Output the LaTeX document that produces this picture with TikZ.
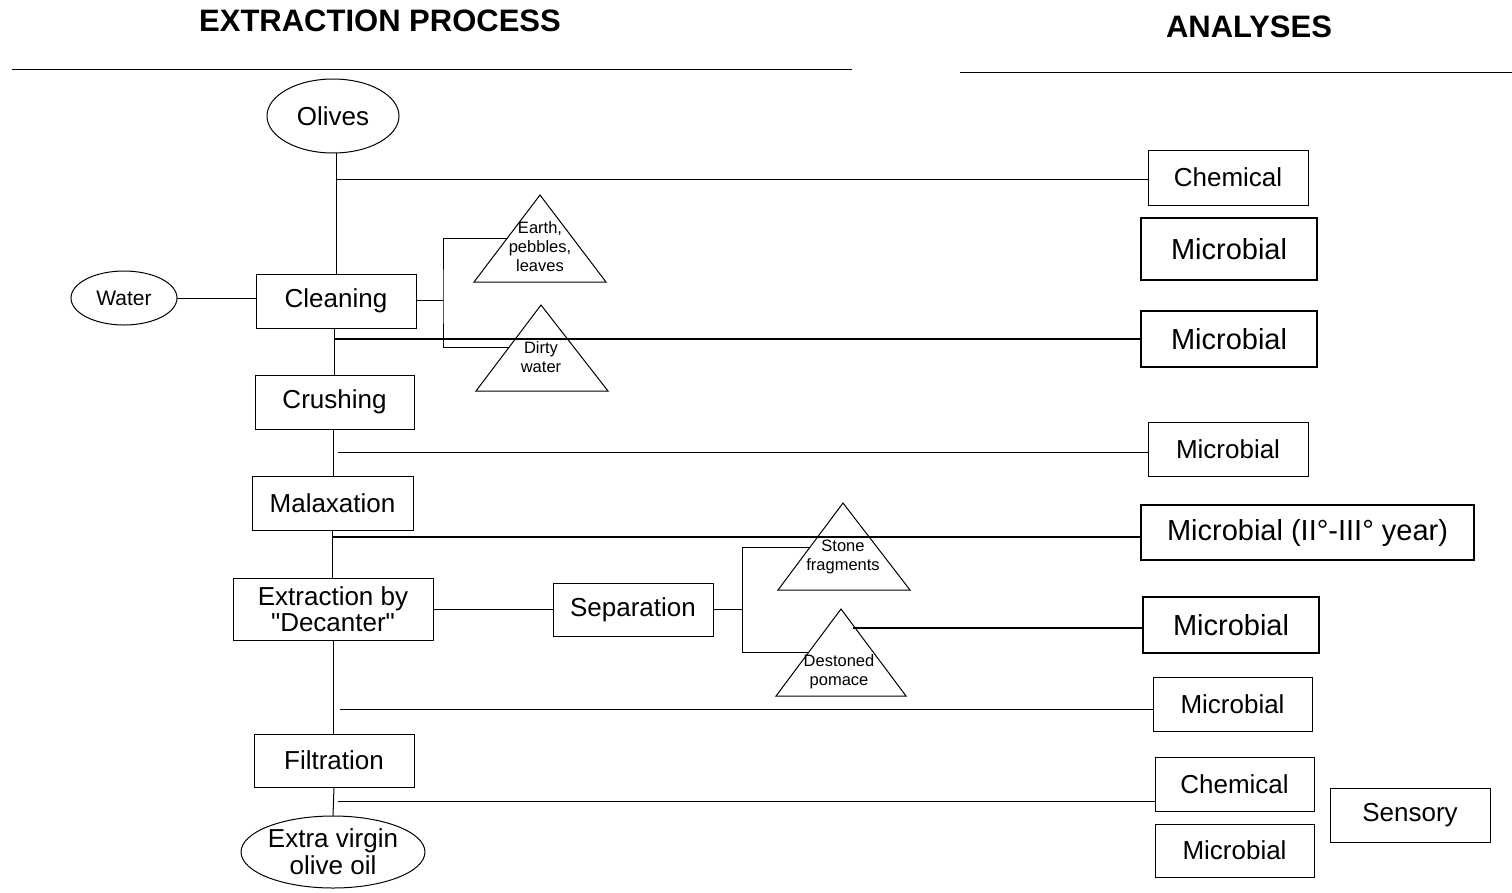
\documentclass[tikz,border=0pt]{standalone}
\usepackage{fontspec}
\setmainfont{Liberation Sans}[Ligatures=TeXOff]
\usetikzlibrary{calc,shapes.geometric}
\begin{document}
\begin{tikzpicture}[x=1pt,y=-1pt,
  every node/.style={inner sep=0pt, outer sep=0pt},
  thinline/.style={line width=1pt},
  thickline/.style={line width=2.2pt},
  stepbox/.style={draw, line width=1pt, rectangle, font=\fontsize{26}{26}\selectfont},
  testbox/.style={draw, line width=1pt, rectangle, font=\fontsize{26}{26}\selectfont},
  keybox/.style={draw, line width=2.2pt, rectangle, font=\fontsize{29}{29}\selectfont},
  oval/.style={draw, line width=1pt, ellipse},
  waste/.style={line width=1pt, line join=miter},
  wastetext/.style={align=center, font=\fontsize{16.5}{19}\selectfont},
  heading/.style={font=\bfseries\fontsize{31}{31}\selectfont}
]
\useasboundingbox (0,0) rectangle (1512,892);

% headings and rules
\node[heading] (hproc) at (380,21) {EXTRACTION PROCESS};
\node[heading] (hana) at (1249,27) {ANALYSES};
\draw[thinline] (12,69) -- (852,69);
\draw[thinline] (960,72) -- (1512,72);

% process chain
\node[oval, minimum width=132, minimum height=74, font=\fontsize{26}{26}\selectfont] (olives) at (333,116) {Olives};
\node[oval, minimum width=106, minimum height=54, font=\fontsize{21}{21}\selectfont] (water) at (124,298) {Water};
\node[stepbox, minimum width=160, minimum height=54] (cleaning) at (336,301) {Cleaning};
\node[stepbox, minimum width=159, minimum height=54] (crushing) at (334.5,402) {Crushing};
\node[stepbox, minimum width=161, minimum height=54] (malax) at (332.5,503) {Malaxation};
\node[stepbox, minimum width=200, minimum height=62, align=center, font=\fontsize{26}{26}\selectfont] (extract) at (333,609) {Extraction by\\"Decanter"};
\node[stepbox, minimum width=160, minimum height=53] (separ) at (633,609.5) {Separation};
\node[stepbox, minimum width=160, minimum height=53] (filtr) at (334,760.5) {Filtration};
\node[oval, minimum width=180, minimum height=72, align=center, font=\fontsize{26}{27}\selectfont] (evoo) at (333,852) {Extra virgin\\olive oil};

% analyses
\node[testbox, minimum width=160, minimum height=55] (chemA) at (1228,177.5) {Chemical};
\node[keybox, minimum width=176, minimum height=62] (micA) at (1229,249) {Microbial};
\node[keybox, minimum width=176, minimum height=56] (micB) at (1229,339) {Microbial};
\node[testbox, minimum width=160, minimum height=54] (micC) at (1228,449) {Microbial};
\node[keybox, minimum width=333, minimum height=55] (micD) at (1307.5,532.5) {Microbial (II°-III° year)};
\node[keybox, minimum width=176, minimum height=56] (micE) at (1231,625) {Microbial};
\node[testbox, minimum width=159, minimum height=54] (micF) at (1232.5,704) {Microbial};
\node[testbox, minimum width=159, minimum height=54] (chemB) at (1234.5,784) {Chemical};
\node[testbox, minimum width=159, minimum height=53] (micG) at (1234.5,850.5) {Microbial};
\node[testbox, minimum width=160, minimum height=54] (sens) at (1410,815) {Sensory};

% waste triangles
\coordinate (t1a) at (540,195); \coordinate (t1l) at (474,282); \coordinate (t1r) at (606,282);
\coordinate (t2a) at (541,305); \coordinate (t2l) at (476,391); \coordinate (t2r) at (608,391);
\coordinate (t3a) at (843,503); \coordinate (t3l) at (778,590); \coordinate (t3r) at (910,590);
\coordinate (t4a) at (841,609); \coordinate (t4l) at (776,696); \coordinate (t4r) at (906,696);
\draw[waste] (t1a) -- (t1l) -- (t1r) -- cycle;
\draw[waste] (t2a) -- (t2l) -- (t2r) -- cycle;
\draw[waste] (t3a) -- (t3l) -- (t3r) -- cycle;
\draw[waste] (t4a) -- (t4l) -- (t4r) -- cycle;
\node[wastetext] (earth) at (540,247) {Earth,\\pebbles,\\leaves};
\node[wastetext] (dirty) at (541,357.5) {Dirty\\water};
\node[wastetext] (stone) at (843,556.5) {Stone\\fragments};
\node[wastetext] (destoned) at (839,671.5) {Destoned\\pomace};

% main line
\draw[thinline] (cleaning.north |- olives.south) -- (cleaning.north);
\draw[thinline] (334,328) -- (334,375);
\draw[thinline] (333,429) -- (333,476);
\draw[thinline] (332,530) -- (332,578);
\draw[thinline] (333,640) -- (333,734);
\draw[thinline] (334,787) -- (evoo.north);
\draw[thinline] (water.east) -- (water.east -| cleaning.west);
\draw[thinline] (extract.east |- separ.west) -- (separ.west);

% cleaning discharges
\coordinate (j1) at (443,300);
\coordinate (e1) at ($(t1a)!{43/87}!(t1l)$);
\coordinate (e2) at ($(t2a)!{42/86}!(t2l)$);
\draw[thinline] (cleaning.east |- j1) -- (j1);
\draw[thinline] (e1) -| (j1) |- (e2);

% separation discharges
\coordinate (j2) at (742,609);
\coordinate (e3) at ($(t3a)!{44/87}!(t3l)$);
\coordinate (e4) at ($(t4a)!{43/87}!(t4l)$);
\draw[thinline] (separ.east |- j2) -- (j2);
\draw[thinline] (e3) -| (j2) |- (e4);

% sampling points
\coordinate (sO) at (336,179);
\coordinate (sC) at (334,339);
\coordinate (sR) at (338,452);
\coordinate (sM) at (333,537);
\coordinate (sE) at (340,709);
\coordinate (sF) at (338,801);
\coordinate (sP) at (853,628);
\draw[thinline] (sO) -- (sO -| chemA.west);
\draw[thickline] (sC) -- (sC -| micB.west);
\draw[thinline] (sR) -- (sR -| micC.west);
\draw[thickline] (sM) -- (sM -| micD.west);
\draw[thinline] (sE) -- (sE -| micF.west);
\draw[thinline] (sF) -- (sF -| chemB.west);
\draw[thickline] (sP) -- (sP -| micE.west);
\end{tikzpicture}
\end{document}
